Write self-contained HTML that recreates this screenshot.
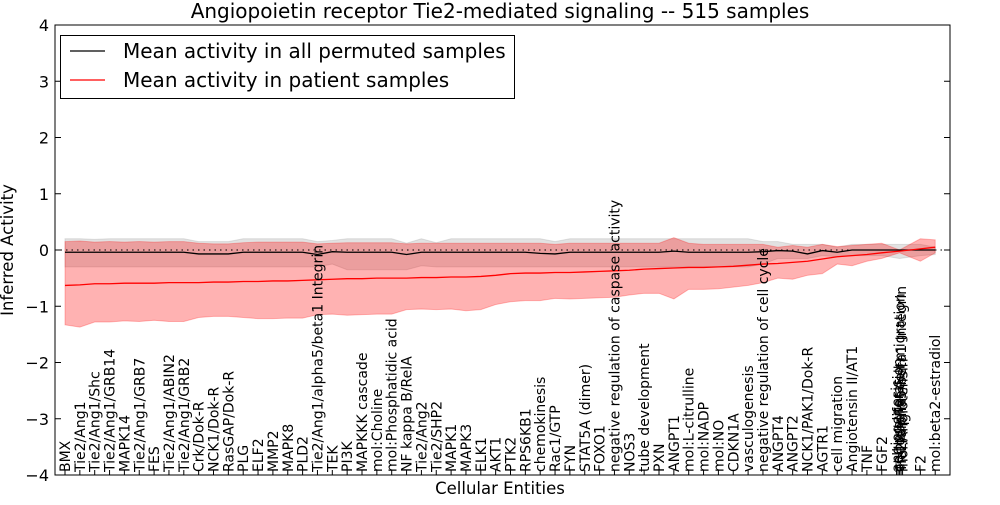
<!DOCTYPE html>
<html><head><meta charset="utf-8"><style>
body{margin:0;background:#fff;width:1000px;height:500px;overflow:hidden}
svg{font-family:"DejaVu Sans","Liberation Sans",sans-serif}
</style></head><body>
<svg id="chart" width="1000" height="500" xmlns="http://www.w3.org/2000/svg">
<rect x="0" y="0" width="1000" height="500" fill="#fff"/>
<text x="500" y="18" font-size="20" text-anchor="middle">Angiopoietin receptor Tie2-mediated signaling -- 515 samples</text>
<text transform="translate(13,250) rotate(-90)" font-size="16.5" text-anchor="middle">Inferred Activity</text>
<text x="500" y="494" font-size="16.5" text-anchor="middle">Cellular Entities</text>
<g id="plot"></g>
</svg>
<script>
const categories=["BMX","Tie2/Ang1","Tie2/Ang1/Shc","Tie2/Ang1/GRB14","MAPK14","Tie2/Ang1/GRB7","FES","Tie2/Ang1/ABIN2","Tie2/Ang1/GRB2","Crk/Dok-R","NCK1/Dok-R","RasGAP/Dok-R","PLG","ELF2","MMP2","MAPK8","PLD2","Tie2/Ang1/alpha5/beta1 Integrin","TEK","PI3K","MAPKKK cascade","mol:Choline","mol:Phosphatidic acid","NF kappa B/RelA","Tie2/Ang2","Tie2/SHP2","MAPK1","MAPK3","ELK1","AKT1","PTK2","RPS6KB1","chemokinesis","Rac1/GTP","FYN","STAT5A (dimer)","FOXO1","negative regulation of caspase activity","NOS3","tube development","PXN","ANGPT1","mol:L-citrulline","mol:NADP","mol:NO","CDKN1A","vasculogenesis","negative regulation of cell cycle","ANGPT4","ANGPT2","NCK1/PAK1/Dok-R","AGTR1","cell migration","Angiotensin II/AT1","TNF","FGF2","angiogenesis","F2","mol:beta2-estradiol"];
const clusterLabels=["angiogenesis","cell proliferation","endothelial cell migration","Tie2/alpha5/beta1 Integrin","mol:Angiotensin"];
const xPos=[0,1,2,3,4,5,6,7,8,9,10,11,12,13,14,15,16,17,18,19,20,21,22,23,24,25,26,27,28,29,30,31,32,33,34,35,36,37,38,39,40,41,42,43,44,45,46,47,48,49,50,51,52,53,54,55,56.2,57.6,58.6];
const redMean=[-0.63,-0.62,-0.6,-0.6,-0.59,-0.59,-0.59,-0.58,-0.58,-0.58,-0.57,-0.57,-0.56,-0.56,-0.55,-0.55,-0.54,-0.53,-0.52,-0.51,-0.51,-0.5,-0.5,-0.5,-0.49,-0.49,-0.48,-0.48,-0.47,-0.45,-0.42,-0.41,-0.41,-0.4,-0.4,-0.39,-0.38,-0.37,-0.36,-0.34,-0.33,-0.32,-0.31,-0.31,-0.3,-0.29,-0.27,-0.25,-0.24,-0.22,-0.2,-0.16,-0.12,-0.1,-0.08,-0.05,-0.02,0.02,0.05];
const redLow=[-1.33,-1.37,-1.28,-1.28,-1.26,-1.27,-1.25,-1.27,-1.27,-1.2,-1.18,-1.18,-1.2,-1.22,-1.22,-1.21,-1.21,-1.15,-1.14,-1.16,-1.15,-1.14,-1.14,-1.06,-1.05,-1.06,-1.05,-1.08,-1.06,-0.97,-0.92,-0.9,-0.9,-0.86,-0.87,-0.86,-0.85,-0.84,-0.8,-0.77,-0.77,-0.87,-0.7,-0.7,-0.69,-0.66,-0.63,-0.58,-0.5,-0.52,-0.45,-0.42,-0.25,-0.28,-0.2,-0.15,-0.05,-0.2,-0.05];
const redHigh=[0.15,0.16,0.14,0.15,0.14,0.15,0.14,0.15,0.15,0.12,0.11,0.11,0.13,0.14,0.14,0.14,0.14,0.11,0.12,0.13,0.13,0.13,0.13,0.11,0.12,0.12,0.12,0.12,0.12,0.12,0.12,0.12,0.12,0.1,0.12,0.12,0.12,0.12,0.12,0.12,0.12,0.22,0.12,0.1,0.1,0.1,0.1,0.1,0.05,0.08,0.05,0.1,0.06,0.08,0.1,0.12,0.0,0.2,0.18];
const grayMean=[-0.04,-0.04,-0.04,-0.04,-0.04,-0.04,-0.04,-0.04,-0.04,-0.07,-0.07,-0.07,-0.04,-0.04,-0.04,-0.04,-0.04,-0.08,-0.03,-0.04,-0.04,-0.04,-0.04,-0.08,-0.04,-0.04,-0.04,-0.04,-0.04,-0.04,-0.04,-0.04,-0.06,-0.07,-0.04,-0.04,-0.04,-0.04,-0.04,-0.04,-0.04,-0.02,-0.04,-0.04,-0.04,-0.04,-0.04,-0.03,-0.01,-0.02,-0.07,-0.01,-0.04,0.0,0.0,0.0,0.0,0.0,0.0];
const grayHigh=[0.2,0.2,0.19,0.2,0.2,0.2,0.2,0.2,0.2,0.15,0.15,0.15,0.2,0.2,0.2,0.2,0.2,0.15,0.17,0.2,0.2,0.2,0.2,0.12,0.2,0.13,0.2,0.2,0.2,0.2,0.2,0.2,0.2,0.15,0.2,0.2,0.2,0.2,0.2,0.2,0.2,0.2,0.2,0.2,0.2,0.2,0.2,0.15,0.15,0.1,0.1,0.1,0.05,0.1,0.1,0.1,0.1,0.1,0.05];
const grayLow=[-0.3,-0.3,-0.3,-0.3,-0.3,-0.3,-0.3,-0.3,-0.3,-0.3,-0.3,-0.3,-0.3,-0.3,-0.3,-0.3,-0.3,-0.3,-0.25,-0.35,-0.35,-0.35,-0.35,-0.35,-0.28,-0.3,-0.3,-0.3,-0.3,-0.3,-0.3,-0.3,-0.3,-0.3,-0.3,-0.3,-0.3,-0.3,-0.3,-0.3,-0.3,-0.3,-0.3,-0.3,-0.3,-0.3,-0.3,-0.25,-0.15,-0.15,-0.15,-0.1,-0.12,-0.1,-0.1,-0.1,-0.15,-0.1,-0.08];
const yTicks=[-4,-3,-2,-1,0,1,2,3,4];

const NS="http://www.w3.org/2000/svg";
const L=55,R=950,T=25,B=475;
const X=i=>65+i*14.85;
const Y=v=>T+(4-v)/8*(B-T);
const g=document.getElementById('plot');
function mk(tag,attrs,parent){const e=document.createElementNS(NS,tag);for(const k in attrs)e.setAttribute(k,attrs[k]);(parent||g).appendChild(e);return e;}
function band(lo,hi,fill,stroke,name){
  let d="M"+xPos.map((x,i)=>X(x)+","+Y(hi[i])).join("L");
  for(let i=xPos.length-1;i>=0;i--)d+="L"+X(xPos[i])+","+Y(lo[i]);
  const p=mk('path',{d:d+"Z",fill:fill,stroke:stroke,'stroke-width':1});
  
  
}
function line(vals,color,name){
  const p=mk('path',{d:"M"+xPos.map((x,i)=>X(x)+","+Y(vals[i])).join("L"),fill:"none",stroke:color,'stroke-width':1.3});
  
  
}
band(grayLow,grayHigh,"rgba(160,160,160,0.3)","rgba(160,160,160,0.3)","permuted-band");
band(redLow,redHigh,"rgba(255,0,0,0.3)","rgba(255,0,0,0.25)","patient-band");
const zl=mk('line',{x1:L,x2:R,y1:Y(0),y2:Y(0),stroke:"#000",'stroke-dasharray':"1.5,4",'stroke-width':1});


line(grayMean,"#000","permuted-mean-line");
line(redMean,"#f00","patient-mean-line");
const fr=mk('rect',{x:L,y:T,width:R-L,height:B-T,fill:"none",stroke:"#000",'stroke-width':1});


yTicks.forEach(v=>{
  mk('line',{x1:L,x2:L+6,y1:Y(v),y2:Y(v),stroke:"#000"});
  mk('line',{x1:R-6,x2:R,y1:Y(v),y2:Y(v),stroke:"#000"});
  const t=mk('text',{x:L-6,y:Y(v)+6,'font-size':16,'text-anchor':'end'});
  t.textContent=(v<0?"\u2212"+(-v):String(v));
  
  
});
function xlabel(txt,x){
  mk('line',{x1:x,x2:x,y1:B,y2:B-5,stroke:"#000"});
  const t=mk('text',{transform:`translate(${x+5},${B-3}) rotate(-90)`,'font-size':14});
  t.textContent=txt;
  
  
}
categories.forEach((c,i)=>{ if(c!=="angiogenesis") xlabel(c,X(xPos[i])); });
clusterLabels.forEach((c,j)=>xlabel(c,X(xPos[56])-3+j*1.5));
const lg=mk('g',{});


mk('rect',{x:60.5,y:35.5,width:454,height:63,fill:"#fff",stroke:"#000"},lg);
mk('line',{x1:70,x2:105,y1:51,y2:51,stroke:"#000",'stroke-width':1.3},lg);
mk('line',{x1:70,x2:105,y1:80,y2:80,stroke:"#f00",'stroke-width':1.3},lg);
const t1=mk('text',{x:123,y:58,'font-size':20},lg);t1.textContent="Mean activity in all permuted samples";


const t2=mk('text',{x:123,y:87,'font-size':20},lg);t2.textContent="Mean activity in patient samples";


</script>
</body></html>
